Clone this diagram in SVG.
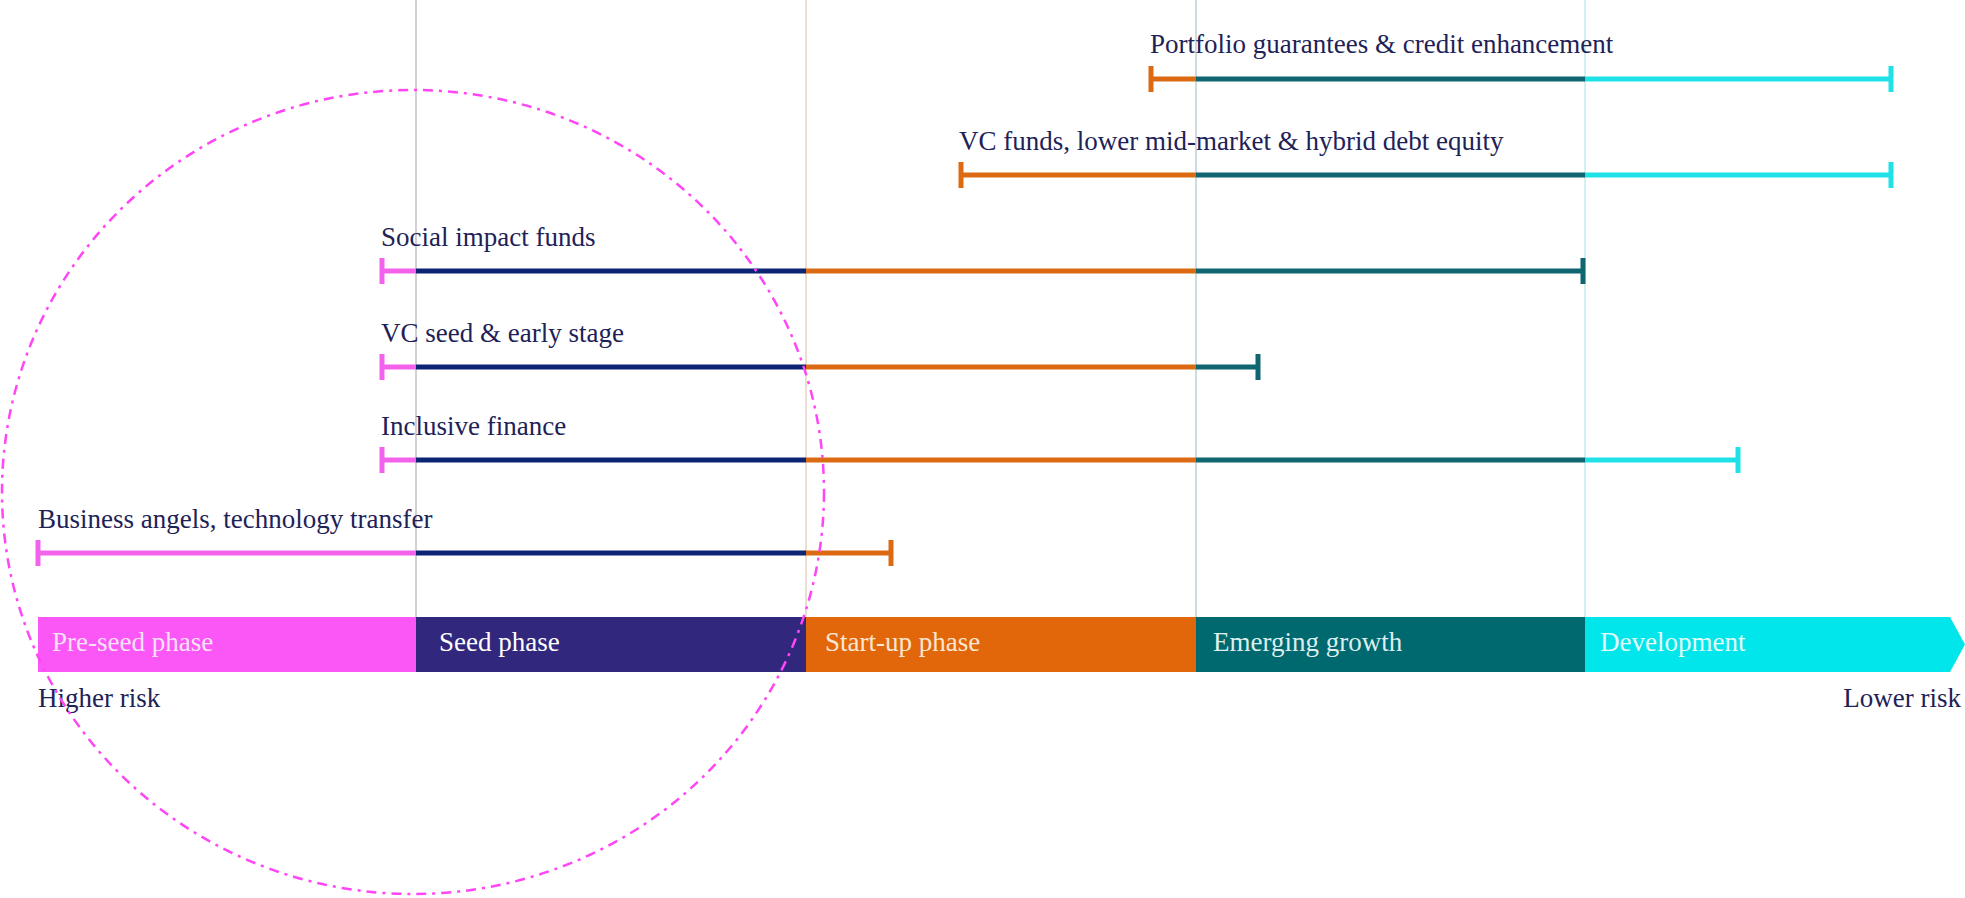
<svg xmlns="http://www.w3.org/2000/svg" width="1965" height="898" viewBox="0 0 1965 898">
  <style>
    text { font-family: "Liberation Serif", "Times New Roman", serif; font-size: 27px; }
    .lbl { fill: #1e2257; }
    .seg { stroke-width: 5; fill: none; }
    .tick { stroke-width: 5; fill: none; }
    .pink { stroke: #f262ea; }
    .navy { stroke: #0b2474; }
    .orange { stroke: #dc6a12; }
    .teal { stroke: #0f6670; }
    .cyan { stroke: #1ee2e6; }
    .guide { stroke-width: 1.5; }
  </style>

  <rect width="1965" height="898" fill="#ffffff"/>

  <!-- vertical phase separators -->
  <g id="guides">
    <line class="guide" x1="416" y1="0" x2="416" y2="617" stroke="#c2c2c2"/>
    <line class="guide" x1="806" y1="0" x2="806" y2="617" stroke="#e9d2c4"/>
    <line class="guide" x1="1196" y1="0" x2="1196" y2="617" stroke="#bcd2d4"/>
    <line class="guide" x1="1585" y1="0" x2="1585" y2="617" stroke="#c4eaee"/>
  </g>

  <!-- phase bar -->
  <g id="phases">
    <g id="phase-preseed">
      <rect x="38" y="617" width="378" height="55" fill="#fb56f6"/>
      <text x="52" y="651" fill="#f8e2f8">Pre-seed phase</text>
    </g>
    <g id="phase-seed">
      <rect x="416" y="617" width="390" height="55" fill="#31277c"/>
      <text x="439" y="651" fill="#ffffff">Seed phase</text>
    </g>
    <g id="phase-startup">
      <rect x="806" y="617" width="390" height="55" fill="#e2660a"/>
      <text x="825" y="651" fill="#fbe6d2">Start-up phase</text>
    </g>
    <g id="phase-emerging">
      <rect x="1196" y="617" width="389" height="55" fill="#00686f"/>
      <text x="1213" y="651" fill="#dcefee">Emerging growth</text>
    </g>
    <g id="phase-development">
      <polygon points="1585,617 1950,617 1965,644.5 1950,672 1585,672" fill="#00e6ea"/>
      <text x="1600" y="651" fill="#e2fbfb">Development</text>
    </g>
  </g>

  <!-- financing instruments and their ranges across phases -->
  <g id="connectors">
    <g id="row-portfolio">
      <line class="seg orange" x1="1151" y1="79" x2="1196" y2="79"/>
      <line class="seg teal" x1="1196" y1="79" x2="1585" y2="79"/>
      <line class="seg cyan" x1="1585" y1="79" x2="1891" y2="79"/>
      <line class="tick orange" x1="1151" y1="66" x2="1151" y2="92"/>
      <line class="tick cyan" x1="1891" y1="66" x2="1891" y2="92"/>
    </g>
    <g id="row-vcfunds">
      <line class="seg orange" x1="961" y1="175" x2="1196" y2="175"/>
      <line class="seg teal" x1="1196" y1="175" x2="1585" y2="175"/>
      <line class="seg cyan" x1="1585" y1="175" x2="1891" y2="175"/>
      <line class="tick orange" x1="961" y1="162" x2="961" y2="188"/>
      <line class="tick cyan" x1="1891" y1="162" x2="1891" y2="188"/>
    </g>
    <g id="row-social">
      <line class="seg pink" x1="382" y1="271" x2="416" y2="271"/>
      <line class="seg navy" x1="416" y1="271" x2="806" y2="271"/>
      <line class="seg orange" x1="806" y1="271" x2="1196" y2="271"/>
      <line class="seg teal" x1="1196" y1="271" x2="1583" y2="271"/>
      <line class="tick pink" x1="382" y1="258" x2="382" y2="284"/>
      <line class="tick teal" x1="1583" y1="258" x2="1583" y2="284"/>
    </g>
    <g id="row-vcseed">
      <line class="seg pink" x1="382" y1="367" x2="416" y2="367"/>
      <line class="seg navy" x1="416" y1="367" x2="806" y2="367"/>
      <line class="seg orange" x1="806" y1="367" x2="1196" y2="367"/>
      <line class="seg teal" x1="1196" y1="367" x2="1258" y2="367"/>
      <line class="tick pink" x1="382" y1="354" x2="382" y2="380"/>
      <line class="tick teal" x1="1258" y1="354" x2="1258" y2="380"/>
    </g>
    <g id="row-inclusive">
      <line class="seg pink" x1="382" y1="460" x2="416" y2="460"/>
      <line class="seg navy" x1="416" y1="460" x2="806" y2="460"/>
      <line class="seg orange" x1="806" y1="460" x2="1196" y2="460"/>
      <line class="seg teal" x1="1196" y1="460" x2="1585" y2="460"/>
      <line class="seg cyan" x1="1585" y1="460" x2="1738" y2="460"/>
      <line class="tick pink" x1="382" y1="447" x2="382" y2="473"/>
      <line class="tick cyan" x1="1738" y1="447" x2="1738" y2="473"/>
    </g>
    <g id="row-angels">
      <line class="seg pink" x1="38" y1="553" x2="416" y2="553"/>
      <line class="seg navy" x1="416" y1="553" x2="806" y2="553"/>
      <line class="seg orange" x1="806" y1="553" x2="891" y2="553"/>
      <line class="tick pink" x1="38" y1="540" x2="38" y2="566"/>
      <line class="tick orange" x1="891" y1="540" x2="891" y2="566"/>
    </g>
  </g>

  <!-- instrument labels -->
  <g id="labels">
    <text class="lbl" x="1150" y="53">Portfolio guarantees &amp; credit enhancement</text>
    <text class="lbl" x="959" y="150">VC funds, lower mid-market &amp; hybrid debt equity</text>
    <text class="lbl" x="381" y="246">Social impact funds</text>
    <text class="lbl" x="381" y="342">VC seed &amp; early stage</text>
    <text class="lbl" x="381" y="435">Inclusive finance</text>
    <text class="lbl" x="38" y="528">Business angels, technology transfer</text>
  </g>

  <!-- risk axis -->
  <g id="risk">
    <text class="lbl" x="38" y="707">Higher risk</text>
    <text class="lbl" x="1961" y="707" text-anchor="end">Lower risk</text>
  </g>

  <!-- highlight outline -->
  <ellipse id="highlight" cx="413" cy="492" rx="411" ry="402" fill="none" stroke="#ff45f5" stroke-width="2.5" stroke-dasharray="10 6 3 6"/>
</svg>
